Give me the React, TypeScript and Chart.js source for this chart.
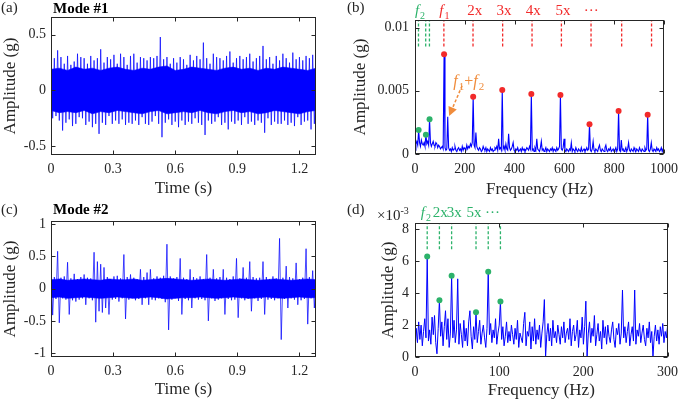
import React, { useEffect, useRef } from "react";
import { Chart, registerables } from "chart.js";
Chart.register(...registerables);

const SERIF = '"Liberation Serif", "Times New Roman", Times, serif';
const INK = "#262626";
const BLUE = "#0000ff";
const RED = "#f22a2a";
const GREEN = "#2cb26a";
const ORANGE = "#f08c3c";

// ---------- (a) Mode #1 time trace, g, one extreme every DT s ----------
const DT = 0.008;
const mode1 = [
  0.27, -0.25, 0.29, -0.23, 0.36, -0.27, 0.3, -0.36, 0.24, -0.29,
  0.31, -0.26, 0.23, -0.32, 0.26, -0.3, 0.33, -0.24, 0.3, -0.25,
  0.29, -0.31, 0.24, -0.28, 0.31, -0.33, 0.27, -0.3, 0.29, -0.39,
  0.37, -0.29, 0.25, -0.31, 0.3, -0.23, 0.28, -0.3, 0.32, -0.27,
  0.24, -0.3, 0.33, -0.26, 0.3, -0.31, 0.23, -0.29, 0.31, -0.3,
  0.33, -0.27, 0.25, -0.31, 0.3, -0.24, 0.29, -0.3, 0.27, -0.31,
  0.3, -0.28, 0.29, -0.23, 0.31, -0.3, 0.48, -0.42, 0.28, -0.29,
  0.3, -0.26, 0.24, -0.31, 0.29, -0.28, 0.25, -0.33, 0.3, -0.27,
  0.28, -0.31, 0.23, -0.28, 0.32, -0.3, 0.27, -0.25, 0.31, -0.29,
  0.28, -0.31, 0.43, -0.4, 0.29, -0.27, 0.24, -0.3, 0.33, -0.28,
  0.3, -0.24, 0.29, -0.31, 0.27, -0.29, 0.31, -0.35, 0.35, -0.28,
  0.25, -0.3, 0.29, -0.27, 0.31, -0.31, 0.28, -0.24, 0.3, -0.3,
  0.33, -0.28, 0.26, -0.31, 0.29, -0.27, 0.31, -0.29, 0.4, -0.38,
  0.28, -0.25, 0.3, -0.31, 0.24, -0.28, 0.31, -0.3, 0.27, -0.3,
  0.33, -0.27, 0.29, -0.31, 0.25, -0.29, 0.34, -0.32, 0.28, -0.24,
  0.3, -0.31, 0.27, -0.28, 0.31, -0.27, 0.29, -0.35, 0.32, -0.3,
  0.27,
];
// dense core of the Mode #1 trace (solid band), every DT_CORE s
const DT_CORE = 0.04;
const mode1CoreHi = [
  0.19, 0.2, 0.18, 0.21, 0.19, 0.2, 0.18, 0.2, 0.21, 0.19, 0.18,
  0.2, 0.19, 0.21, 0.22, 0.18, 0.19, 0.21, 0.2, 0.19, 0.18, 0.2,
  0.21, 0.19, 0.2, 0.18, 0.2, 0.19, 0.21, 0.2, 0.19, 0.18, 0.2,
];
const mode1CoreLo = [
  -0.18, -0.2, -0.19, -0.2, -0.18, -0.21, -0.19, -0.2, -0.18, -0.19, -0.2,
  -0.21, -0.19, -0.18, -0.21, -0.2, -0.19, -0.2, -0.18, -0.2, -0.21, -0.19,
  -0.18, -0.2, -0.19, -0.21, -0.2, -0.18, -0.19, -0.2, -0.21, -0.19, -0.18,
];

// ---------- (c) Mode #2 time trace, g ----------
const mode2 = [
  0.44, -0.41, 0.18, -0.16, 0.58, -0.53, 0.17, -0.15, 0.19, -0.17,
  0.41, -0.4, 0.16, -0.18, 0.23, -0.2, 0.15, -0.17, 0.18, -0.15,
  0.22, -0.25, 0.17, -0.15, 0.16, -0.18, 0.565, -0.52, 0.42, -0.35,
  0.38, -0.37, 0.33, -0.3, 0.18, -0.4, 0.15, -0.17, 0.19, -0.16,
  0.2, -0.2, 0.16, -0.15, 0.53, -0.47, 0.18, -0.17, 0.22, -0.15,
  0.17, -0.18, 0.15, -0.16, 0.3, -0.25, 0.18, -0.15, 0.25, -0.25,
  0.3, -0.17, 0.16, -0.18, 0.19, -0.15, 0.17, -0.16, 0.2, -0.21,
  0.69, -0.64, 0.19, -0.17, 0.16, -0.15, 0.18, -0.19, 0.47, -0.4,
  0.17, -0.16, 0.15, -0.18, 0.3, -0.3, 0.18, -0.15, 0.16, -0.17,
  0.19, -0.16, 0.15, -0.18, 0.53, -0.5, 0.17, -0.15, 0.3, -0.19,
  0.16, -0.17, 0.18, -0.15, 0.3, -0.4, 0.17, -0.16, 0.15, -0.18,
  0.19, -0.17, 0.47, -0.45, 0.16, -0.15, 0.33, -0.18, 0.17, -0.16,
  0.42, -0.35, 0.18, -0.15, 0.16, -0.19, 0.17, -0.16, 0.42, -0.4,
  0.18, -0.17, 0.15, -0.16, 0.19, -0.18, 0.16, -0.15, 0.78, -0.79,
  0.17, -0.16, 0.35, -0.3, 0.18, -0.15, 0.16, -0.17, 0.4, -0.25,
  0.15, -0.18, 0.17, -0.16, 0.62, -0.55, 0.18, -0.15, 0.28, -0.3,
  0.17,
];
const mode2CoreHi = [
  0.14, 0.15, 0.13, 0.14, 0.15, 0.14, 0.13, 0.15, 0.14, 0.14, 0.15,
  0.13, 0.14, 0.15, 0.16, 0.15, 0.14, 0.13, 0.14, 0.15, 0.14, 0.13,
  0.14, 0.15, 0.14, 0.13, 0.14, 0.15, 0.14, 0.13, 0.14, 0.15, 0.14,
];
const mode2CoreLo = [
  -0.14, -0.13, -0.15, -0.14, -0.13, -0.14, -0.15, -0.14, -0.13, -0.14, -0.15,
  -0.14, -0.13, -0.14, -0.16, -0.15, -0.14, -0.14, -0.13, -0.14, -0.15, -0.14,
  -0.13, -0.14, -0.15, -0.14, -0.13, -0.14, -0.15, -0.14, -0.13, -0.14, -0.14,
];

// ---------- (b) spectrum of mode #1, amplitude in 1e-4 g, bins every DF1 Hz ----------
const DF1 = 3.65;
const spec1e4 = [
  3, 8, 10, 7, 19, 9, 6, 11, 8, 7,
  9, 6, 15.3, 8, 10, 7, 27.4, 9, 6, 8,
  10, 7, 6, 9, 8, 5, 7, 6, 4, 5,
  6, 4, 78.9, 5, 3, 4, 29.5, 5, 3, 4,
  2, 5, 3, 4, 6, 3, 2, 4, 5, 3,
  4, 2, 6, 3, 5, 4, 3, 7, 4, 6,
  5, 8, 6, 9, 45.3, 7, 5, 17, 6, 4,
  3, 5, 4, 2, 3, 6, 4, 3, 5, 2,
  4, 3, 2, 5, 3, 4, 2, 3, 5, 4,
  6, 3, 12, 4, 5, 3, 50.6, 4, 6, 3,
  8, 4, 3, 16, 5, 3, 4, 6, 9, 3,
  2, 4, 3, 5, 2, 3, 4, 2, 5, 3,
  4, 2, 3, 5, 4, 3, 6, 4, 47.5, 3,
  4, 2, 5, 3, 12, 4, 3, 2, 5, 10,
  3, 4, 2, 3, 5, 2, 4, 3, 2, 4,
  3, 5, 2, 4, 3, 2, 5, 3, 4, 6,
  46.7, 4, 3, 5, 12, 3, 2, 4, 3, 2,
  4, 3, 9, 2, 4, 3, 2, 5, 3, 2,
  4, 3, 2, 5, 2, 3, 4, 2, 3, 5,
  3, 4, 23.5, 3, 2, 4, 10, 3, 2, 4,
  3, 2, 5, 7, 3, 2, 4, 3, 2, 5,
  7, 3, 2, 4, 3, 5, 2, 3, 4, 2,
  3, 5, 2, 4, 34, 3, 2, 11, 3, 4,
  2, 3, 5, 2, 4, 9, 3, 2, 4, 3,
  2, 5, 3, 2, 4, 3, 2, 5, 3, 2,
  4, 3, 2, 5, 3, 4, 31, 3, 2, 4,
  9, 3, 2, 4, 3, 2, 5, 3, 4, 2,
  3, 5, 2, 4, 3,
];

// ---------- (d) spectrum of mode #2, amplitude in 1e-3 g, bins every DF2 Hz ----------
const DF2 = 1.45;
const spec2e3 = [
  0.3, 1.8, 0.9, 2.2, 1.1, 2.0, 0.7, 1.6, 2.4, 1.2,
  6.3, 1.0, 1.7, 0.8, 2.5, 1.4, 2.6, 0.9, 0.2, 1.8,
  3.55, 1.3, 2.2, 0.7, 1.9, 2.9, 1.1, 2.4, 0.6, 1.5,
  5.1, 1.2, 2.3, 0.9, 1.7, 4.9, 0.8, 2.1, 1.4, 0.6,
  2.3, 1.0, 1.8, 0.7, 2.2, 2.9, 1.3, 0.5, 1.9, 1.1,
  2.8, 0.9, 1.6, 2.3, 0.8, 1.5, 2.0, 1.2, 0.6, 1.8,
  5.35, 1.4, 2.1, 0.9, 1.7, 1.2, 2.4, 0.8, 1.5, 2.0,
  3.48, 1.1, 1.9, 0.7, 1.3, 2.2, 0.9, 1.6, 1.0, 2.0,
  1.4, 0.8, 1.8, 1.1, 2.3, 0.6, 1.5, 1.2, 0.9, 2.1,
  2.8, 0.7, 1.6, 1.3, 2.2, 0.5, 1.9, 1.0, 2.4, 0.8,
  1.7, 1.1, 2.0, 0.6, 1.5, 2.2, 3.6, 0.0, 1.4, 2.1,
  1.0, 1.8, 0.7, 2.3, 1.2, 1.6, 0.9, 2.0, 1.4, 0.8,
  1.9, 1.2, 2.2, 0.9, 1.5, 1.8, 1.1, 2.4, 0.7, 1.6,
  2.0, 1.0, 1.4, 2.3, 0.6, 1.7, 1.2, 2.5, 0.8, 1.9,
  3.5, 0.0, 1.5, 2.2, 0.9, 1.8, 1.3, 2.6, 0.7, 1.4,
  2.1, 1.0, 1.6, 0.5, 2.3, 1.2, 1.9, 0.8, 2.0, 1.3,
  0.9, 1.7, 2.2, 1.1, 0.6, 1.8, 1.4, 2.1, 0.8, 1.5,
  4.2, 1.2, 1.9, 0.9, 1.6, 2.2, 0.7, 1.4, 1.9, 1.0,
  4.2, 0.8, 1.7, 1.3, 2.1, 0.9, 1.5, 2.0, 1.1, 0.7,
  1.8, 1.2, 2.2, 0.9, 1.6, 0.0, 1.3, 2.0, 1.0, 1.7,
  0.8, 1.9, 1.3, 2.1, 0.9, 1.6, 1.2, 2.0,
];

// ---------- markers and harmonic guides ----------
const dots1GreenHz = [14.6, 43.8, 58.4];
const dots1GreenAmp = [0.0019, 0.00153, 0.00274];
const dots1RedHz = [116.8, 233.6, 350.4, 467.2, 584, 700.8, 817.6, 934.4];
const dots1RedAmp = [0.00789, 0.00453, 0.00506, 0.00475, 0.00467, 0.00235, 0.0034, 0.0031];
const guide1GreenHz = [14, 43, 58];
const guide1RedHz = [116, 233, 352, 470, 588, 707, 830, 950];
const guide1Amp = [0.0085, 0.0106];
const label1Text = ["f2", "f1", "2x", "3x", "4x", "5x", "\u00b7\u00b7\u00b7"];
const label1Hz = [20, 118, 240, 357, 475, 594, 708];
const arrowFromHz = 189, arrowFromAmp = 0.0054;
const arrowToHz = 137, arrowToAmp = 0.003;
const sumLabelHz = 216, sumLabelAmp = 0.0054;

const dots2Hz = [14.5, 29, 43.5, 72.5, 87, 101.5];
const dots2Amp = [6.3, 3.55, 5.1, 2.8, 5.35, 3.48];
const guide2Hz = [14.5, 29, 43.5, 72.5, 87, 101.5];
const guide2Amp = [6.75, 8.4];
const label2Text = ["f2", "2x", "3x", "5x", "\u00b7\u00b7\u00b7"];
const label2Hz = [13, 30, 46.5, 70, 92];

// ---------- tick labels ----------
const ticksTime = [0, 0.3, 0.6, 0.9, 1.2];
const ticksA_y = [-0.5, 0, 0.5];
const ticksC_y = [-1, -0.5, 0, 0.5, 1];
const ticksB_x = [0, 200, 400, 600, 800, 1000];
const ticksB_y = [0, 0.005, 0.01];
const ticksD_x = [0, 100, 200, 300];
const ticksD_y = [0, 2, 4, 6, 8];

type Part = { t: string; it?: boolean; sub?: boolean; sup?: boolean; b?: boolean };

function parseLabel(s: string): Part[] {
  const m = /^f(\d)$/.exec(s);
  if (m) return [{ t: "f", it: true }, { t: m[1], sub: true }];
  return [{ t: s }];
}

function drawRich(ctx: CanvasRenderingContext2D, parts: Part[], x: number, baseline: number, size: number, color: string, align: "left" | "center") {
  const fontOf = (p: Part) =>
    `${p.it ? "italic " : ""}${p.b ? "bold " : ""}${p.sub || p.sup ? Math.round(size * 0.68) : size}px ${SERIF}`;
  let w = 0;
  const ws = parts.map((p) => {
    ctx.font = fontOf(p);
    const m = ctx.measureText(p.t).width + (p.it ? 1 : 0);
    w += m;
    return m;
  });
  let cx = align === "center" ? x - w / 2 : x;
  ctx.fillStyle = color;
  ctx.textBaseline = "alphabetic";
  ctx.textAlign = "left";
  parts.forEach((p, i) => {
    ctx.font = fontOf(p);
    const dy = p.sub ? size * 0.28 : p.sup ? -size * 0.42 : 0;
    ctx.fillText(p.t, cx, baseline + dy);
    cx += ws[i];
  });
}

type Panel = {
  xMin: number; xMax: number; yMin: number; yMax: number;
  xTicks: number[]; yTicks: number[];
  xTitle: string; yTitle: string;
  yW: number; xH: number; padTop: number; padRight: number;
  yTitlePad: number; xTitlePad: number; xTickPad: number; yTickPad: number;
  datasets: any[];
  draw?: (chart: any, ctx: CanvasRenderingContext2D) => void;
};

function build(canvas: HTMLCanvasElement, p: Panel) {
  const frame = {
    id: "frame",
    afterDraw(chart: any) {
      const { ctx, chartArea: a } = chart;
      const xs = chart.scales.x, ys = chart.scales.y;
      ctx.save();
      ctx.strokeStyle = INK;
      ctx.lineWidth = 1;
      const L = Math.round(a.left) + 0.5, R = Math.round(a.right) - 0.5;
      const T = Math.round(a.top) + 0.5, B = Math.round(a.bottom) - 0.5;
      ctx.strokeRect(L, T, R - L, B - T);
      ctx.beginPath();
      for (const v of p.xTicks) {
        const px = Math.round(xs.getPixelForValue(v)) + 0.5;
        ctx.moveTo(px, B); ctx.lineTo(px, B - 4);
        ctx.moveTo(px, T); ctx.lineTo(px, T + 4);
      }
      for (const v of p.yTicks) {
        const py = Math.round(ys.getPixelForValue(v)) + 0.5;
        ctx.moveTo(L, py); ctx.lineTo(L + 4, py);
        ctx.moveTo(R, py); ctx.lineTo(R - 4, py);
      }
      ctx.stroke();
      if (p.draw) p.draw(chart, ctx);
      ctx.restore();
    },
  };
  const tickFont = { family: SERIF, size: 14 };
  const titleFont = { family: SERIF, size: 17 };
  return new Chart(canvas, {
    type: "line",
    data: { datasets: p.datasets },
    options: {
      animation: false,
      responsive: false,
      devicePixelRatio: 1,
      events: [],
      layout: { padding: { left: 0, top: p.padTop, right: p.padRight, bottom: 0 } },
      plugins: { legend: { display: false }, tooltip: { enabled: false }, filler: { propagate: false } },
      elements: { point: { radius: 0 }, line: { tension: 0 } },
      scales: {
        x: {
          type: "linear",
          min: p.xMin,
          max: p.xMax,
          afterBuildTicks: (s: any) => { s.ticks = p.xTicks.map((v) => ({ value: v })); },
          afterFit: (s: any) => { s.height = p.xH; },
          grid: { display: false, drawTicks: false },
          border: { display: false },
          ticks: { font: tickFont, color: INK, padding: p.xTickPad, maxRotation: 0, autoSkip: false, callback: (v: any) => String(v) },
          title: { display: true, text: p.xTitle, font: titleFont, color: INK, padding: { top: 0, bottom: p.xTitlePad } },
        },
        y: {
          type: "linear",
          min: p.yMin,
          max: p.yMax,
          afterBuildTicks: (s: any) => { s.ticks = p.yTicks.map((v) => ({ value: v })); },
          afterFit: (s: any) => { s.width = p.yW; },
          grid: { display: false, drawTicks: false },
          border: { display: false },
          ticks: { font: tickFont, color: INK, padding: p.yTickPad, autoSkip: false, callback: (v: any) => String(v) },
          title: { display: true, text: p.yTitle, font: titleFont, color: INK, padding: { top: p.yTitlePad, bottom: 0 } },
        },
      },
    } as any,
    plugins: [frame],
  });
}

const dots = (xs: number[], ys: number[], color: string) => ({
  data: xs.map((x, i) => ({ x, y: ys[i] })),
  showLine: false,
  pointRadius: 3,
  pointBackgroundColor: color,
  pointBorderWidth: 0,
  order: 0,
});

const guides = (xs: number[], range: number[], color: string) =>
  xs.map((x) => ({
    data: [{ x, y: range[0] }, { x, y: range[1] }],
    borderColor: color,
    borderWidth: 1.3,
    borderDash: [3, 2],
    pointRadius: 0,
    order: 1,
  }));

// trace = spiky zig-zag line + solid dense core band (upper filled down to lower)
const traceSets = (vals: number[], hi: number[], lo: number[]) => [
  { data: vals.map((v, i) => ({ x: i * DT, y: v })), borderColor: "rgba(0,0,255,0.8)", borderWidth: 0.9, pointRadius: 0, order: 2 },
  { data: hi.map((v, i) => ({ x: i * DT_CORE, y: v })), borderColor: BLUE, borderWidth: 0.6, backgroundColor: BLUE, fill: "+1", pointRadius: 0, order: 3 },
  { data: lo.map((v, i) => ({ x: i * DT_CORE, y: v })), borderColor: BLUE, borderWidth: 0.6, pointRadius: 0, order: 4 },
];

export default function App() {
  const ra = useRef<HTMLCanvasElement>(null);
  const rb = useRef<HTMLCanvasElement>(null);
  const rc = useRef<HTMLCanvasElement>(null);
  const rd = useRef<HTMLCanvasElement>(null);

  useEffect(() => {
    const charts: Chart[] = [];
    charts.push(
      build(ra.current!, {
        xMin: 0, xMax: 1.28, yMin: -0.58, yMax: 0.66,
        xTicks: ticksTime, yTicks: ticksA_y,
        xTitle: "Time (s)", yTitle: "Amplitude (g)",
        yW: 51, xH: 45, padTop: 17, padRight: 24,
        yTitlePad: 0, xTitlePad: 1, xTickPad: 6, yTickPad: 5,
        datasets: traceSets(mode1, mode1CoreHi, mode1CoreLo),
        draw: (chart, ctx) => {
          drawRich(ctx, [{ t: "(a)" }], 1, 12, 15, INK, "left");
          drawRich(ctx, [{ t: "Mode #1", b: true }], 53, 13, 15, "#000", "left");
        },
      })
    );
    charts.push(
      build(rb.current!, {
        xMin: 0, xMax: 1000, yMin: 0, yMax: 0.0106,
        xTicks: ticksB_x, yTicks: ticksB_y,
        xTitle: "Frequency (Hz)", yTitle: "Amplitude (g)",
        yW: 73, xH: 46, padTop: 20, padRight: 16,
        yTitlePad: 8, xTitlePad: 0, xTickPad: 7, yTickPad: 6,
        datasets: [
          dots(dots1RedHz, dots1RedAmp, RED),
          dots(dots1GreenHz, dots1GreenAmp, GREEN),
          ...guides(guide1RedHz, guide1Amp, RED),
          ...guides(guide1GreenHz, guide1Amp, GREEN),
          { data: spec1e4.map((v, i) => ({ x: i * DF1, y: v * 1e-4 })), borderColor: BLUE, borderWidth: 1.1, pointRadius: 0, order: 2 },
        ],
        draw: (chart, ctx) => {
          const xs = chart.scales.x, ys = chart.scales.y;
          drawRich(ctx, [{ t: "(b)" }], 5, 12, 15, INK, "left");
          label1Text.forEach((t, i) => {
            drawRich(ctx, parseLabel(t), xs.getPixelForValue(label1Hz[i]), 15, 15, i === 0 ? GREEN : RED, "center");
          });
          const x0 = xs.getPixelForValue(arrowFromHz), y0 = ys.getPixelForValue(arrowFromAmp);
          const x1 = xs.getPixelForValue(arrowToHz), y1 = ys.getPixelForValue(arrowToAmp);
          const ang = Math.atan2(y1 - y0, x1 - x0);
          const HL = 9, HW = 4.5;
          const bx = x1 - HL * Math.cos(ang), by = y1 - HL * Math.sin(ang);
          ctx.strokeStyle = ORANGE;
          ctx.lineWidth = 1.5;
          ctx.setLineDash([3, 2]);
          ctx.beginPath(); ctx.moveTo(x0, y0); ctx.lineTo(bx, by); ctx.stroke();
          ctx.setLineDash([]);
          ctx.fillStyle = ORANGE;
          ctx.beginPath();
          ctx.moveTo(x1, y1);
          ctx.lineTo(bx + HW * Math.sin(ang), by - HW * Math.cos(ang));
          ctx.lineTo(bx - HW * Math.sin(ang), by + HW * Math.cos(ang));
          ctx.closePath(); ctx.fill();
          drawRich(ctx, [{ t: "f", it: true }, { t: "1", sub: true }, { t: "+" }, { t: "f", it: true }, { t: "2", sub: true }],
            xs.getPixelForValue(sumLabelHz), ys.getPixelForValue(sumLabelAmp), 16, ORANGE, "center");
        },
      })
    );
    charts.push(
      build(rc.current!, {
        xMin: 0, xMax: 1.28, yMin: -1.06, yMax: 1.05,
        xTicks: ticksTime, yTicks: ticksC_y,
        xTitle: "Time (s)", yTitle: "Amplitude (g)",
        yW: 51, xH: 45, padTop: 21, padRight: 24,
        yTitlePad: 0, xTitlePad: 2, xTickPad: 6, yTickPad: 5,
        datasets: traceSets(mode2, mode2CoreHi, mode2CoreLo),
        draw: (chart, ctx) => {
          drawRich(ctx, [{ t: "(c)" }], 1, 14, 15, INK, "left");
          drawRich(ctx, [{ t: "Mode #2", b: true }], 53, 14, 15, "#000", "left");
        },
      })
    );
    charts.push(
      build(rd.current!, {
        xMin: 0, xMax: 300, yMin: 0, yMax: 8.4,
        xTicks: ticksD_x, yTicks: ticksD_y,
        xTitle: "Frequency (Hz)", yTitle: "Amplitude (g)",
        yW: 73, xH: 45, padTop: 23, padRight: 16,
        yTitlePad: 36, xTitlePad: 1, xTickPad: 7, yTickPad: 6,
        datasets: [
          dots(dots2Hz, dots2Amp, GREEN),
          ...guides(guide2Hz, guide2Amp, GREEN),
          { data: spec2e3.map((v, i) => ({ x: i * DF2, y: v })), borderColor: BLUE, borderWidth: 1, pointRadius: 0, order: 2 },
        ],
        draw: (chart, ctx) => {
          const xs = chart.scales.x;
          drawRich(ctx, [{ t: "(d)" }], 5, 14, 15, INK, "left");
          drawRich(ctx, [{ t: "\u00d710" }, { t: "-3", sup: true }], 35, 20, 15, INK, "left");
          label2Text.forEach((t, i) => {
            drawRich(ctx, parseLabel(t), xs.getPixelForValue(label2Hz[i]), 17, 15, GREEN, "center");
          });
        },
      })
    );
    return () => charts.forEach((c) => c.destroy());
  }, []);

  const cs = (left: number, top: number): React.CSSProperties => ({ position: "absolute", left, top, display: "block" });
  return (
    <div style={{ position: "absolute", left: 0, top: 0, width: 685, height: 402, background: "#fff" }}>
      <canvas ref={ra} width={340} height={200} style={cs(0, 0)} />
      <canvas ref={rb} width={343} height={200} style={cs(342, 0)} />
      <canvas ref={rc} width={340} height={202} style={cs(0, 200)} />
      <canvas ref={rd} width={343} height={202} style={cs(342, 200)} />
    </div>
  );
}
